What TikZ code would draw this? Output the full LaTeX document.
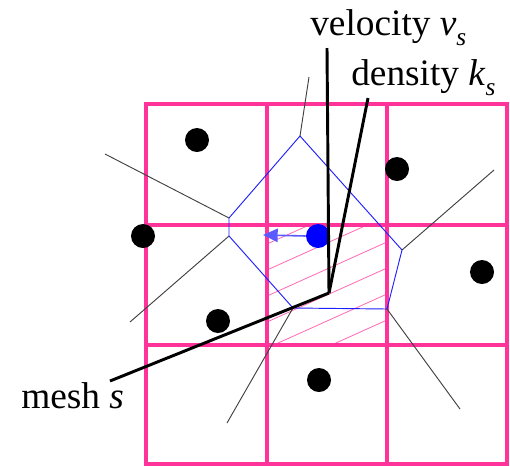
\documentclass[tikz,border=0pt]{standalone}
\usepackage{fontspec}
\setmainfont{Liberation Serif}
\usetikzlibrary{arrows.meta}
\definecolor{gridpink}{RGB}{255,51,153}
\definecolor{hatchpink}{RGB}{255,105,180}
\definecolor{cellblue}{RGB}{30,30,255}
\definecolor{arrowblue}{RGB}{90,90,255}
\tikzset{
  grid line/.style={gridpink,line width=2.3pt},
  cell edge/.style={cellblue,line width=0.7pt},
  ridge/.style={black!75,line width=0.7pt},
  site/.style={circle,fill=black,minimum size=18pt,inner sep=0pt},
  leader/.style={line width=2.2pt},
  label text/.style={inner sep=0pt,anchor=base west,font=\fontsize{28}{32}\selectfont}
}
\newcommand{\subvar}[2]{\textit{#1}\raisebox{-0.28em}{\fontsize{19}{19}\selectfont\textit{#2}}}
\begin{document}
\begin{tikzpicture}[x=0.75pt,y=-0.75pt]
\useasboundingbox (0,0) rectangle (510,465);
% hatched mesh cell
\begin{scope}
\clip (267,225) rectangle (387,345);
\foreach \c in {218,244,...,400} {\draw[hatchpink,line width=0.6pt] (267,\c) -- (387,\c-54);}
\end{scope}
% square mesh
\draw[grid line] (146,104) rectangle (507,464);
\foreach \p in {267,387} {\draw[grid line] (\p,104) -- (\p,464);}
\foreach \p in {225,345} {\draw[grid line] (146,\p) -- (507,\p);}
% voronoi cell
\coordinate (vt) at (300,136);
\coordinate (vlt) at (229,218);
\coordinate (vlb) at (229,236);
\coordinate (vbl) at (293,308);
\coordinate (vbr) at (387,309);
\coordinate (vr) at (402,250);
\draw[cell edge] (vt) -- (vlt) -- (vlb) -- (vbl) -- (vbr) -- (vr) -- cycle;
\draw[ridge] (vt) -- (309,77);
\draw[ridge] (vlt) -- (105,154);
\draw[ridge] (vlb) -- (130,322);
\draw[ridge] (vbl) -- (227,423);
\draw[ridge] (vbr) -- (460,409);
\draw[ridge] (vr) -- (494,170);
% sites
\node[site] (s1) at (197,140) {};
\node[site] (s2) at (397,169) {};
\node[site] (s3) at (143,236) {};
\node[site] (s4) at (482,272) {};
\node[site] (s5) at (218,321) {};
\node[site] (s6) at (319,380) {};
\node[site,fill=blue] (mover) at (318,236) {};
\coordinate (tip) at (263,235);
\draw[arrowblue,line width=1.2pt,-{Triangle[length=11pt,width=10pt]}] (mover.west) -- (tip);
% labels and leaders
\node[label text] (vel) at (310,35) {velocity \subvar{v}{s}};
\node[label text] (dens) at (351,85) {density \subvar{k}{s}};
\node[label text] (mesh) at (21,408) {mesh \textit{s}};
\coordinate (hub) at (329,293);
\coordinate (velend) at (327,48);
\coordinate (densend) at (368,98);
\coordinate (meshend) at (110,381);
\draw[leader] (velend) -- (hub);
\draw[leader] (densend) -- (hub);
\draw[leader] (meshend) -- (hub);
\end{tikzpicture}
\end{document}
